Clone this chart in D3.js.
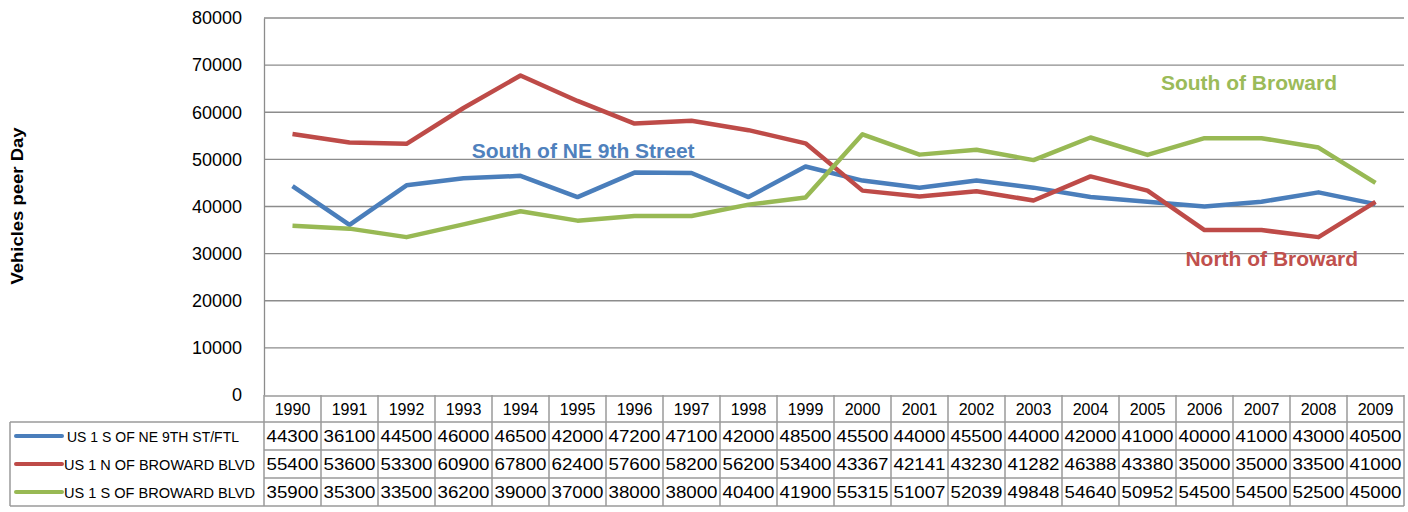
<!DOCTYPE html>
<html>
<head>
<meta charset="utf-8">
<script src="https://cdn.jsdelivr.net/npm/d3@7"></script>
<style>
  body { margin: 0; background: #fff; }
  text { font-family: "Liberation Sans", Arial, sans-serif; }
</style>
</head>
<body>
<div class="chart"></div>
<script>
// data
const years = [1990,1991,1992,1993,1994,1995,1996,1997,1998,1999,2000,2001,2002,2003,2004,2005,2006,2007,2008,2009];
const nineth = [44300,36100,44500,46000,46500,42000,47200,47100,42000,48500,45500,44000,45500,44000,42000,41000,40000,41000,43000,40500];
const northBroward = [55400,53600,53300,60900,67800,62400,57600,58200,56200,53400,43367,42141,43230,41282,46388,43380,35000,35000,33500,41000];
const southBroward = [35900,35300,33500,36200,39000,37000,38000,38000,40400,41900,55315,51007,52039,49848,54640,50952,54500,54500,52500,45000];
const seriesNames = ["US 1 S OF NE 9TH ST/FTL", "US 1 N OF BROWARD BLVD", "US 1 S OF BROWARD BLVD"];
const yTicks = [0,10000,20000,30000,40000,50000,60000,70000,80000];
// in-chart labels: text, position in years (fractional), value
const labels = [
  {text: "South of NE 9th Street", at: 1995.1, value: 50300, color: "#4f81bd"},
  {text: "South of Broward", at: 2006.78, value: 64700, color: "#9bbb59"},
  {text: "North of Broward", at: 2007.18, value: 27300, color: "#c0504d"}
];

const w = 1408;
const h = 512;
const colors = ["#4a7ebb", "#be4b48", "#98b954"];
const series = [nineth, northBroward, southBroward];

const plotL = 264, plotR = 1404, plotT = 18, plotB = 395;
const rowH = 28, headT = 395, headH = 27;

const svg = d3.select(".chart").append("svg")
  .attr("width", w).attr("height", h);

const x = d3.scaleBand().domain(years).range([plotL, plotR]);
const xc = d => x(d) + x.bandwidth() / 2;
const xf = v => plotL + (v - years[0] + 0.5) * x.bandwidth();
const y = d3.scaleLinear().domain([0, 80000]).range([plotB, plotT]);

// gridlines
svg.append("g").selectAll("line")
  .data(yTicks.filter(d => d > 0))
  .enter().append("line")
  .attr("x1", plotL).attr("x2", plotR)
  .attr("y1", d => y(d)).attr("y2", d => y(d))
  .attr("stroke", "#8c8c8c").attr("stroke-width", 1.3);

// y axis
const yAxis = svg.append("g")
  .attr("transform", `translate(${plotL},0)`)
  .call(d3.axisLeft(y).tickValues(yTicks).tickSize(0).tickPadding(22).tickFormat(d3.format("d")));
yAxis.select(".domain").attr("stroke", "#8c8c8c").attr("stroke-width", 1.3);
yAxis.selectAll("text").attr("font-size", 18).attr("fill", "#000")
  .attr("font-family", "Liberation Sans, Arial, sans-serif");

svg.append("text")
  .attr("transform", `translate(23,206) rotate(-90)`)
  .attr("text-anchor", "middle")
  .attr("font-weight", "bold").attr("font-size", 17)
  .attr("textLength", 157).attr("lengthAdjust", "spacingAndGlyphs")
  .text("Vehicles peer Day");

// lines
const line = d3.line().x((d, i) => xc(years[i])).y(d => y(d));
svg.append("g").selectAll("path")
  .data(series)
  .enter().append("path")
  .attr("d", line)
  .attr("fill", "none")
  .attr("stroke", (d, i) => colors[i])
  .attr("stroke-width", 4.5)
  .attr("stroke-linejoin", "round");

// in-chart labels
svg.append("g").selectAll("text")
  .data(labels)
  .enter().append("text")
  .attr("x", d => xf(d.at)).attr("y", d => y(d.value))
  .attr("text-anchor", "middle")
  .attr("font-weight", "bold").attr("font-size", 21)
  .attr("fill", d => d.color)
  .text(d => d.text);

// data table
const tbl = svg.append("g").attr("stroke", "#9a9a9a").attr("stroke-width", 1.5);
const tableB = headT + headH + rowH * 3;
tbl.append("line").attr("x1", plotL).attr("x2", plotR).attr("y1", headT + 1).attr("y2", headT + 1);
tbl.append("line").attr("x1", 10).attr("x2", plotR).attr("y1", headT + headH).attr("y2", headT + headH);
tbl.append("line").attr("x1", 10).attr("x2", plotR).attr("y1", tableB).attr("y2", tableB);
tbl.append("line").attr("x1", 10).attr("x2", 10).attr("y1", headT + headH).attr("y2", tableB);
for (let r = 1; r < 3; r++) {
  tbl.append("line").attr("x1", plotL).attr("x2", plotR)
    .attr("y1", headT + headH + r * rowH).attr("y2", headT + headH + r * rowH);
}
tbl.selectAll(".col").data(years.concat([null]))
  .enter().append("line")
  .attr("x1", (d, i) => plotL + i * x.bandwidth())
  .attr("x2", (d, i) => plotL + i * x.bandwidth())
  .attr("y1", headT).attr("y2", tableB);

svg.append("g").selectAll("text")
  .data(years)
  .enter().append("text")
  .attr("x", d => xc(d)).attr("y", headT + headH / 2 + 6)
  .attr("text-anchor", "middle").attr("font-size", 16)
  .text(d => d);

series.forEach((vals, r) => {
  const cy = headT + headH + r * rowH + rowH / 2;
  const g = svg.append("g");
  g.selectAll("text").data(vals).enter().append("text")
    .attr("x", (d, i) => xc(years[i])).attr("y", cy + 6)
    .attr("text-anchor", "middle").attr("font-size", 16)
    .attr("textLength", 52).attr("lengthAdjust", "spacingAndGlyphs")
    .text(d => d);
  g.append("line").attr("x1", 16).attr("x2", 62).attr("y1", cy).attr("y2", cy)
    .attr("stroke", colors[r]).attr("stroke-width", 4).attr("stroke-linecap", "round");
  g.append("text").attr("x", r === 0 ? 67 : 64).attr("y", cy + 5.5)
    .attr("font-size", 15)
    .attr("textLength", r === 0 ? 172 : 191).attr("lengthAdjust", "spacingAndGlyphs")
    .text(seriesNames[r]);
});
</script>
</body>
</html>
